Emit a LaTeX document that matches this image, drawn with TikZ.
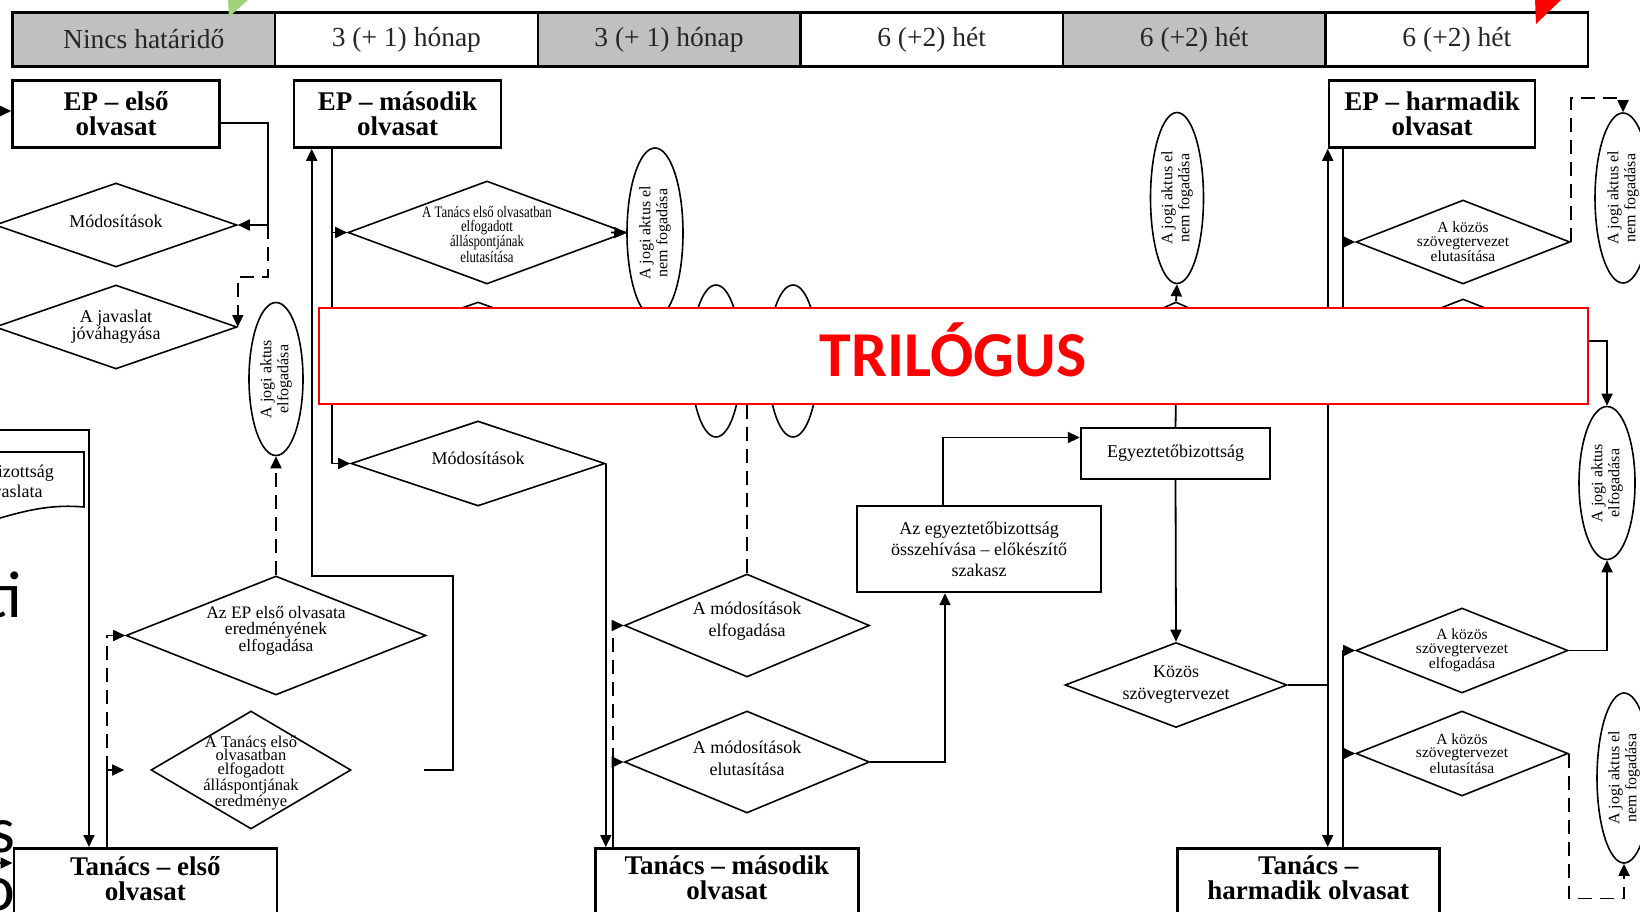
\documentclass[tikz,border=0pt]{standalone}
\usepackage{fontspec}
\setmainfont{Liberation Serif}
\newfontfamily\slidefont{Carlito}
\newfontfamily\narrowfont{Liberation Serif}[FakeStretch=0.8]
\usetikzlibrary{shapes.geometric,arrows.meta}

\definecolor{cellgray}{RGB}{192,192,192}
\definecolor{trired}{RGB}{255,0,0}
\definecolor{tipgreen}{RGB}{160,210,120}
\newcommand\setfs[2]{\fontsize{#1}{#2}\selectfont}

\tikzset{
  cell/.style={draw, line width=2.4pt, minimum width=262.6pt, minimum height=54pt, inner sep=0pt, font=\setfs{27.5}{30}, text=black!85},
  stage/.style={draw, line width=2.6pt, inner sep=0pt, align=center, font=\bfseries\setfs{27}{25}},
  stagelbl/.style={inner sep=0pt, align=center, font=\bfseries\setfs{27}{25}, anchor=north, yshift=-9pt},
  proc/.style={draw, line width=2.4pt, inner sep=0pt, align=center, font=\setfs{18}{21}},
  choice/.style={draw, diamond, line width=1.6pt, inner sep=0pt},
  dlbl/.style={inner sep=0pt, align=center, font=\setfs{18}{22}},
  act/.style={draw, ellipse, line width=1.6pt, inner sep=0pt},
  albl/.style={inner sep=0pt, align=center, rotate=90, font=\setfs{16}{17}},
  flow/.style={line width=1.8pt, -{Triangle[length=12pt,width=11pt]}},
  dflow/.style={flow, dash pattern=on 14pt off 8pt},
}

\begin{document}
\begin{tikzpicture}[x=1pt,y=-1pt]
\useasboundingbox (0,0) rectangle (1640,912);
\fill[white] (0,0) rectangle (1640,912);

% header
\foreach \col/\txt [count=\i from 0] in {cellgray/Nincs határidő,white/3 (+ 1) hónap,cellgray/3 (+ 1) hónap,white/6 (+2) hét,cellgray/6 (+2) hét,white/6 (+2) hét}
  \node[cell, fill=\col] (h\i) at ({143.8+262.6*\i},39.5) {\txt};

% readings
\node[stage, minimum width=207pt, minimum height=67pt] (ep1) at (116,114) {EP – első\\olvasat};
\node[stage, minimum width=207pt, minimum height=67pt] (ep2) at (397.5,114) {EP – második\\olvasat};
\node[stage, minimum width=206pt, minimum height=67pt] (ep3) at (1432,114) {EP – harmadik\\olvasat};
\node[stage, anchor=north west, minimum width=263pt, minimum height=80pt, label={[stagelbl]north:{Tanács – első\\olvasat}}] (t1) at (12.5,847) {};
\node[stage, anchor=north west, minimum width=263pt, minimum height=80pt, label={[stagelbl]north:{Tanács – második\\olvasat}}] (t2) at (594,847) {};
\node[stage, anchor=north west, minimum width=262pt, minimum height=80pt, label={[stagelbl]north:{Tanács –\\harmadik olvasat}}] (t3) at (1176,847) {};
\node[proc, minimum width=189pt, minimum height=51pt] (egy) at (1175.5,453.5) {Egyeztetőbizottság};
\node[proc, minimum width=244pt, minimum height=86pt] (osz) at (979,549) {Az egyeztetőbizottság\\összehívása – előkészítő\\szakasz};

% decisions
\node[choice, minimum width=242pt, minimum height=84pt, label={[dlbl, yshift=4pt]center:Módosítások}] (mod1) at (116,225) {};
\node[choice, minimum width=242pt, minimum height=84pt, label={[dlbl, font=\setfs{18}{16}]center:{A javaslat\\jóváhagyása}}] (jov) at (116,327) {};
\node[choice, minimum width=278pt, minimum height=103pt, label={[dlbl, yshift=-2pt, font=\narrowfont\setfs{16}{13.5}]center:{A Tanács első olvasatban\\elfogadott\\álláspontjának\\elutasítása}}] (elut1) at (487,232.5) {};
\node[choice, minimum width=240pt, minimum height=86pt] (hid1) at (478,345) {};
\node[choice, minimum width=254pt, minimum height=85pt, label={[dlbl, yshift=5pt]center:Módosítások}] (mod2) at (478,463.5) {};
\node[choice, minimum width=300pt, minimum height=119pt, label={[dlbl, yshift=5pt, font=\setfs{17.5}{16}]center:{Az EP első olvasata\\eredményének\\elfogadása}}] (epel) at (276,635.5) {};
\node[choice, minimum width=200pt, minimum height=118pt, label={[dlbl, yshift=-3pt, font=\setfs{16.5}{13.7}]center:{A Tanács első\\olvasatban\\elfogadott\\álláspontjának\\eredménye}}] (tael) at (251,770) {};
\node[choice, minimum width=245pt, minimum height=103pt, label={[dlbl, yshift=4pt]center:{A módosítások\\elfogadása}}] (melf) at (747,625.5) {};
\node[choice, minimum width=245pt, minimum height=102pt, label={[dlbl, yshift=4pt]center:{A módosítások\\elutasítása}}] (mel) at (747,762) {};
\node[choice, minimum width=222pt, minimum height=85pt, label={[dlbl]center:{Közös\\szövegtervezet}}] (kozos) at (1176,685) {};
\node[choice, minimum width=214pt, minimum height=84pt, label={[dlbl, font=\setfs{15.5}{13.5}]center:{A közös\\szövegtervezet\\elutasítása}}] (ep3el) at (1463,242) {};
\node[choice, minimum width=214pt, minimum height=84pt] (ep3ok) at (1463,341) {};
\node[choice, minimum width=200pt, minimum height=88pt] (kb) at (1176,346) {};
\node[choice, minimum width=212pt, minimum height=85pt, label={[dlbl, font=\setfs{15.5}{13.5}]center:{A közös\\szövegtervezet\\elfogadása}}] (t3ok) at (1462,650.5) {};
\node[choice, minimum width=212pt, minimum height=85pt, label={[dlbl, font=\setfs{15.5}{13.5}]center:{A közös\\szövegtervezet\\elutasítása}}] (t3el) at (1462,753.5) {};

% outcomes
\node[act, minimum width=54pt, minimum height=153pt, label={[albl]center:{A jogi aktus\\elfogadása}}] (ell1) at (276,379) {};
\node[act, minimum width=56pt, minimum height=170pt, label={[albl]center:{A jogi aktus el\\nem fogadása}}] (ell2) at (655,233) {};
\node[act, minimum width=50pt, minimum height=152pt] (ell3) at (716,361) {};
\node[act, minimum width=50pt, minimum height=152pt] (ell4) at (793,361) {};
\node[act, minimum width=53pt, minimum height=171pt, label={[albl]center:{A jogi aktus el\\nem fogadása}}] (ell5) at (1177,198) {};
\node[act, minimum width=56pt, minimum height=170pt, label={[albl]center:{A jogi aktus el\\nem fogadása}}] (ell6) at (1623,198) {};
\node[act, minimum width=56pt, minimum height=153pt, label={[albl]center:{A jogi aktus\\elfogadása}}] (ell7) at (1607,483) {};
\node[act, minimum width=54pt, minimum height=170pt, label={[albl]center:{A jogi aktus el\\nem fogadása}}] (ell8) at (1624,778) {};

% proposal
\draw[line width=1.6pt] (-10,452) -- (84,452) -- (84,507) .. controls (50,504) and (25,511) .. (0,518);
\node[dlbl, font=\setfs{18}{20}] (bizj) at (11,483) {A Bizottság\\javaslata};

% connectors
\coordinate (in1) at (-2,111);
\coordinate (in2) at (-2,863);
\coordinate (lin) at (-2,430);
\coordinate (t1up) at ([xshift=94.5pt]t1.north west);
\coordinate (t2up) at ([xshift=19pt]t2.north west);
\coordinate (ep2dn) at ([xshift=39pt]ep2.south west);
\coordinate (ep3dn) at ([xshift=15pt]ep3.south west);
\coordinate (kj) at (kozos.east -| ep3.south west);

\draw[flow] (in1) -- (in1 -| ep1.west);
\draw[flow] ([yshift=-9pt]ep1.east) -- ++(47,0) |- (mod1.east);
\draw[dflow] ([xshift=30pt]mod1.east) |- ([yshift=50pt]jov.east) -- (jov.east);
\draw[dflow] (epel.north) -- (ell1.south);
\draw[flow] (lin) -| ([xshift=76.5pt]t1.north west);
\draw[flow] (t1up) |- ([xshift=-26pt]tael.west);
\draw[dflow] (t1up |- tael.west) |- (epel.west);
\draw[flow] ([xshift=72pt]tael.east) -- ++(29,0) -- ++(0,-194) -| ([xshift=19pt]ep2.south west);
\draw[flow] (ep2dn) |- (mod2.west);
\draw[flow] (ep2dn |- elut1.west) -- (elut1.west);
\draw[flow] ([xshift=-16pt]elut1.east) -- (ell2.west);
\draw[flow] (mod2.east) -- (mod2.east |- t2.north);
\draw[flow] (t2up) |- (mel.west);
\draw[dflow] (t2up |- mel.west) |- (melf.west);
\draw[line width=1.8pt, dash pattern=on 14pt off 8pt] (melf.north) -- ++(0,-200);
\draw[flow] (mel.east) -| ([xshift=-34pt]osz.south);
\draw[flow] ([xshift=-36pt]osz.north) |- ([yshift=16pt]egy.west);
\draw[line width=1.8pt] (kb.south) -- (egy.north);
\draw[flow] (kb.north) -- (ell5.south);
\draw[flow] (egy.south) -- (kozos.north);
\draw[line width=1.8pt] (kozos.east) -- (kj);
\draw[flow] (kj) -- (ep3.south west);
\draw[flow] (kj) -- (kj |- t3.north);
\draw[flow] (ep3dn) |- (ep3ok.west);
\draw[flow] (ep3dn |- ep3el.west) -- (ep3el.west);
\draw[dflow] (ep3el.east) -- ++(0,-144) -| (ell6.north);
\draw[flow] (ep3ok.east) -| (ell7.north);
\draw[flow] (ep3dn |- t3.north) |- (t3el.west);
\draw[flow] (ep3dn |- t3el.west) |- (t3ok.west);
\draw[flow] (t3ok.east) -| (ell7.south);
\draw[dflow] (t3el.east) -- ++(0,145) -| (ell8.south);
\draw[flow] (in2) -- (in2 -| t1.west);

% overlay
\node[draw=trired, line width=2pt, fill=white, minimum width=1269pt, minimum height=96pt, inner sep=0pt] (tri) at (953.5,355.5) {};
\node[anchor=base, text=trired, font=\slidefont\bfseries\setfs{64}{64}, inner sep=0pt] (trilbl) at (953,376.5) {TRILÓGUS};
\node[anchor=base east, inner sep=0pt, font=\slidefont\setfs{66}{66}] (slti) at (22,617) {ti};
\node[anchor=base east, inner sep=0pt, font=\slidefont\setfs{66}{66}] (sls) at (16,852) {s};
\node[anchor=base east, inner sep=0pt, font=\slidefont\setfs{66}{66}] (slo) at (16,910) {o};
\fill[tipgreen] (228,-1) -- (249,-1) -- (229,17) -- cycle;
\fill[trired] (1535,-1) -- (1562,-1) -- (1536,24) -- cycle;
\end{tikzpicture}
\end{document}
